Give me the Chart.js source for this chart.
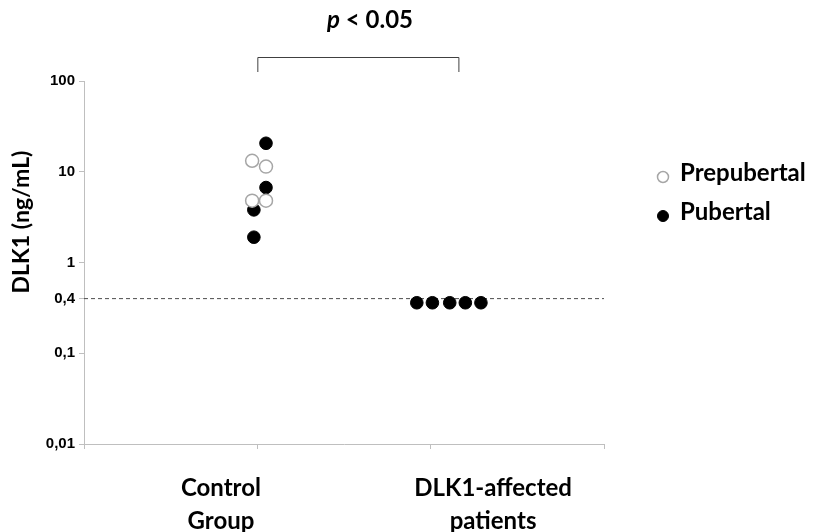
<!DOCTYPE html>
<html>
<head>
<meta charset="utf-8">
<script src="https://cdn.jsdelivr.net/npm/chart.js@4.4.1/dist/chart.umd.min.js"></script>
<style>
  html, body { margin: 0; background: #fff; }
  #wrap { width: 813px; height: 532px; }
</style>
</head>
<body>
<div id="wrap"><canvas id="chart" width="813" height="532"></canvas></div>
<script>
// values (ng/mL), x = jittered group position
const prepubertalX = [0.97, 1.05, 0.97, 1.05];
const prepubertalY = [13.2, 11.4, 4.8, 4.8];
const pubertalX = [1.05, 1.05, 0.98, 0.98];
const pubertalY = [20.6, 6.7, 3.8, 1.9];
const patientX = [1.92, 2.01, 2.11, 2.20, 2.29];
const patientY = [0.36, 0.36, 0.36, 0.36, 0.36];

const yTicks = [0.01, 0.1, 0.4, 1, 10, 100];
const xTicks = [0, 1, 2, 3];
const groupLabels = [["Control", "Group"], ["DLK1-affected", "patients"]];
const groupLabelX = [0.79, 2.36];
const threshold = 0.4;
const bracketFrom = 1;
const bracketTo = 2.16;
const pText = "p < 0.05";
const yTitle = "DLK1 (ng/mL)";
const seriesNames = ["Prepubertal", "Pubertal"];

const FONT = "Lato, 'Open Sans', sans-serif";
const toPoints = (xs, ys) => xs.map((x, i) => ({ x, y: ys[i] }));

const openStyle = { backgroundColor: "#ffffff", borderColor: "#a6a6a6", borderWidth: 1.5, pointRadius: 6.5, pointHoverRadius: 6.5 };
const filledStyle = { backgroundColor: "#000000", borderColor: "#000000", borderWidth: 1, pointRadius: 6.3, pointHoverRadius: 6.3 };

const annotations = {
  id: "annotations",
  afterDraw(chart) {
    const { ctx, chartArea, scales } = chart;
    const xs = scales.x;
    ctx.save();

    // bracket + p value
    const x1 = xs.getPixelForValue(bracketFrom);
    const x2 = xs.getPixelForValue(bracketTo);
    const top = chartArea.top - 24;
    const legs = chartArea.top - 9;
    ctx.strokeStyle = "#404040";
    ctx.lineWidth = 1;
    ctx.beginPath();
    ctx.moveTo(x1 + 0.5, legs);
    ctx.lineTo(x1 + 0.5, top + 0.5);
    ctx.lineTo(x2 + 0.5, top + 0.5);
    ctx.lineTo(x2 + 0.5, legs);
    ctx.stroke();

    ctx.fillStyle = "#000";
    ctx.textBaseline = "alphabetic";
    ctx.textAlign = "left";
    const italic = "italic bold 24px " + FONT;
    const bold = "bold 24px " + FONT;
    ctx.font = italic;
    const pw = ctx.measureText("p").width;
    ctx.font = bold;
    const rest = pText.slice(1);
    const rw = ctx.measureText(rest).width;
    const startX = 370 - (pw + rw) / 2;
    ctx.font = italic;
    ctx.fillText("p", startX, 28);
    ctx.font = bold;
    ctx.fillText(rest, startX + pw, 28);

    // y axis title
    ctx.save();
    ctx.translate(22, 222);
    ctx.rotate(-Math.PI / 2);
    ctx.textAlign = "center";
    ctx.textBaseline = "middle";
    ctx.font = "bold 23px " + FONT;
    ctx.fillText(yTitle, 0, 0);
    ctx.restore();

    // group labels under the axis
    ctx.textAlign = "center";
    ctx.font = "bold 24px " + FONT;
    groupLabels.forEach((lines, i) => {
      const cx = xs.getPixelForValue(groupLabelX[i]);
      lines.forEach((line, j) => ctx.fillText(line, cx, chartArea.bottom + 52 + j * 33));
    });

    // legend
    const styles = [openStyle, filledStyle];
    ctx.textAlign = "left";
    ctx.textBaseline = "middle";
    ctx.font = "bold 24px " + FONT;
    seriesNames.forEach((name, i) => {
      const cy = 177 + i * 39;
      ctx.beginPath();
      ctx.arc(663, cy, 5.5, 0, Math.PI * 2);
      ctx.fillStyle = styles[i].backgroundColor;
      ctx.fill();
      ctx.lineWidth = styles[i].borderWidth;
      ctx.strokeStyle = styles[i].borderColor;
      ctx.stroke();
      ctx.fillStyle = "#000";
      ctx.fillText(name, 680, cy - 4);
    });
    ctx.restore();
  }
};

new Chart(document.getElementById("chart"), {
  type: "scatter",
  data: {
    datasets: [
      { label: "Prepubertal", data: toPoints(prepubertalX, prepubertalY), ...openStyle, order: 1 },
      { label: "Pubertal", data: toPoints(pubertalX, pubertalY), ...filledStyle, order: 1 },
      { label: "DLK1-affected", data: toPoints(patientX, patientY), ...filledStyle, order: 1 },
      {
        type: "line", label: "threshold",
        data: [{ x: xTicks[0], y: threshold }, { x: xTicks[xTicks.length - 1], y: threshold }],
        borderColor: "#4d4d4d", borderWidth: 1, borderDash: [4, 3], pointRadius: 0, fill: false, order: 10
      }
    ]
  },
  options: {
    responsive: false,
    animation: false,
    layout: { padding: { top: 81, right: 209, bottom: 83, left: 0 } },
    plugins: { legend: { display: false }, tooltip: { enabled: false } },
    scales: {
      x: {
        type: "linear", min: 0, max: 3,
        afterBuildTicks: (s) => { s.ticks = xTicks.map((v) => ({ value: v })); },
        afterFit: (s) => { s.height = 5; },
        ticks: { display: false },
        grid: { drawOnChartArea: false, drawTicks: true, tickLength: 5, color: "#bfbfbf" },
        border: { color: "#bfbfbf", width: 1 }
      },
      y: {
        type: "logarithmic", min: 0.01, max: 100,
        afterBuildTicks: (s) => { s.ticks = yTicks.map((v) => ({ value: v })); },
        afterFit: (s) => { s.width = 84; },
        ticks: {
          autoSkip: false, padding: 4, color: "#000",
          font: { family: "'Liberation Sans', Arial, sans-serif", weight: "bold", size: 15 },
          callback: (v) => String(v).replace(".", ",")
        },
        grid: { drawOnChartArea: false, drawTicks: true, tickLength: 5, color: "#bfbfbf" },
        border: { color: "#bfbfbf", width: 1 }
      }
    }
  },
  plugins: [annotations]
});
</script>
</body>
</html>
